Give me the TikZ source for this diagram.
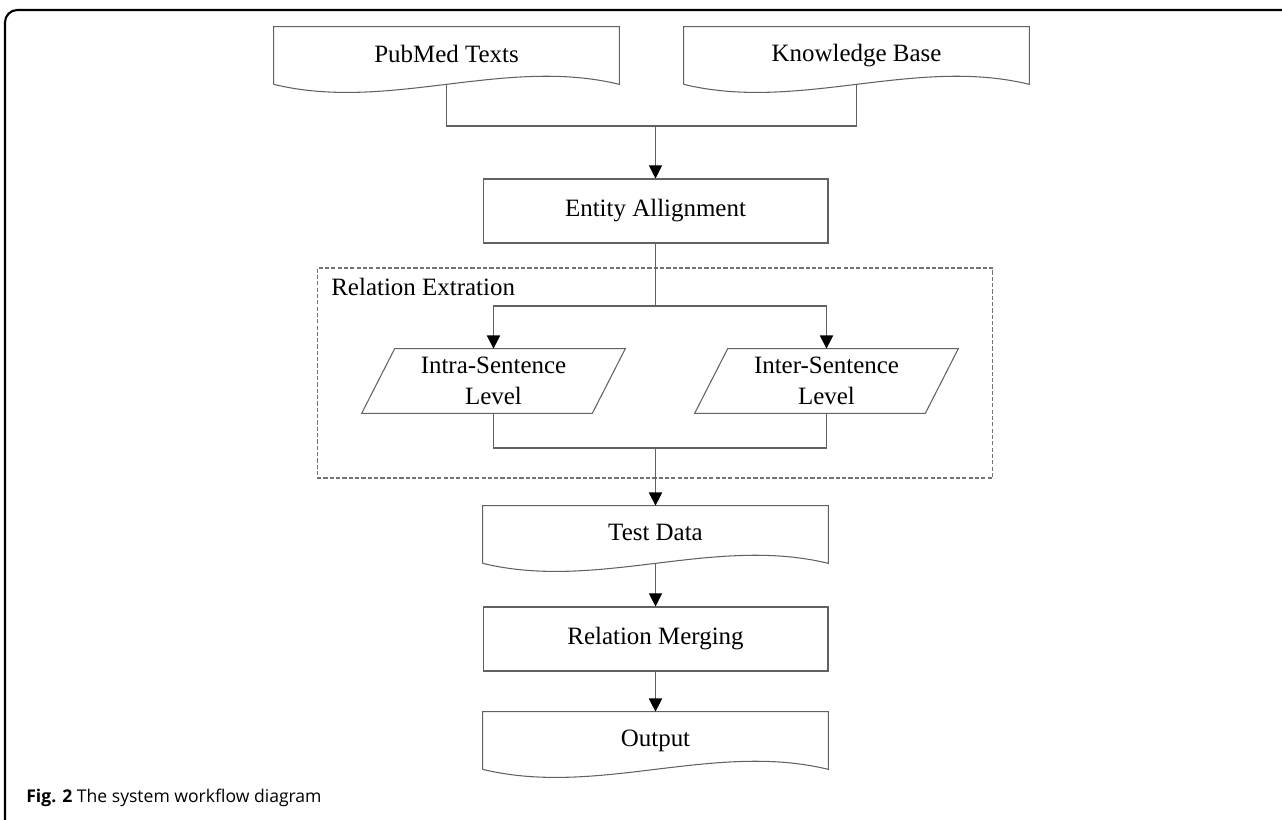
\documentclass[tikz,border=0pt]{standalone}
\usepackage{fontspec}
\setmainfont{Liberation Serif}
\newfontfamily\capfont{Open Sans}
\usetikzlibrary{arrows.meta,calc}
\begin{document}
\begin{tikzpicture}[x=0.02cm,y=-0.02cm,
  line/.style={draw=black!62, line width=0.6pt},
  arr/.style={line, -{Triangle[length=7.5pt,width=7.5pt,black]}},
  txt/.style={font=\fontsize{14.2}{17.5}\selectfont, inner sep=0pt},
  boxnode/.style={txt, rectangle, line, minimum width=6.9cm, minimum height=1.28cm},
  docnode/.style={txt, rectangle, minimum width=6.9cm, minimum height=1.14cm},
  pnode/.style={txt, rectangle, align=center, minimum width=5.26cm, minimum height=1.28cm},
  grpbox/.style={draw=black!55, line width=0.6pt, dash pattern=on 2.4pt off 1.2pt, inner sep=0pt}]
\useasboundingbox (0,0) rectangle (1282,820);
% outer frame
\draw[line width=1.2pt, rounded corners=7pt] (1295,10) -- (5,10) -- (5,835);

% documents
\node[docnode] (pub) at (446.5,55.5) {\raisebox{2pt}{PubMed Texts}};
\node[docnode] (kb) at (856.5,55.5) {\raisebox{2pt}{Knowledge Base}};
\node[boxnode] (ent) at (655.5,211) {Entity Allignment};

% group
\node[grpbox, minimum width=13.52cm, minimum height=4.2cm] (grp) at (655,373) {};
\node[txt, anchor=base west] (grplbl) at (331,296) {Relation Extration};

\node[pnode] (intra) at (493.5,381) {Intra-Sentence\\Level};
\node[pnode] (inter) at (826.5,381) {Inter-Sentence\\Level};

\node[docnode] (test) at (655.5,534.5) {\raisebox{2pt}{Test Data}};
\node[boxnode] (merge) at (655.5,639) {Relation Merging};
\node[docnode] (out) at (655.5,740.5) {\raisebox{2pt}{Output}};

% document outlines
\foreach \n in {pub,kb,test,out}{
  \draw[line] (\n.south west) -- (\n.north west) -- (\n.north east) -- (\n.south east)
    .. controls +(-115,-28) and +(115,28) .. (\n.south west);
}
% parallelogram outlines
\foreach \n in {intra,inter}{
  \draw[line] (\n.south west) -- ($(\n.north west)+(33,0)$) -- (\n.north east)
    -- ($(\n.south east)+(-33,0)$) -- cycle;
}

% junctions
\coordinate (j1) at (655.5,126);
\coordinate (j2) at (655.5,306);
\coordinate (j3) at (655.5,448);

% connectors
\draw[line] (pub.south) |- (j1) -| (kb.south);
\draw[arr] (j1) -- (ent.north);
\draw[line] (ent.south) -- (j2);
\draw[arr] (j2) -| (intra.north);
\draw[arr] (j2) -| (inter.north);
\draw[line] (intra.south) |- (j3) -| (inter.south);
\draw[arr] (j3) -- (test.north);
\draw[arr] (test.south) -- (merge.north);
\draw[arr] (merge.south) -- (out.north);

% caption
\node[anchor=base west, inner sep=0pt, font=\capfont\fontsize{10}{12}\selectfont] (cap) at (26,803) {\textbf{Fig. 2} The system workflow diagram};
\end{tikzpicture}
\end{document}
